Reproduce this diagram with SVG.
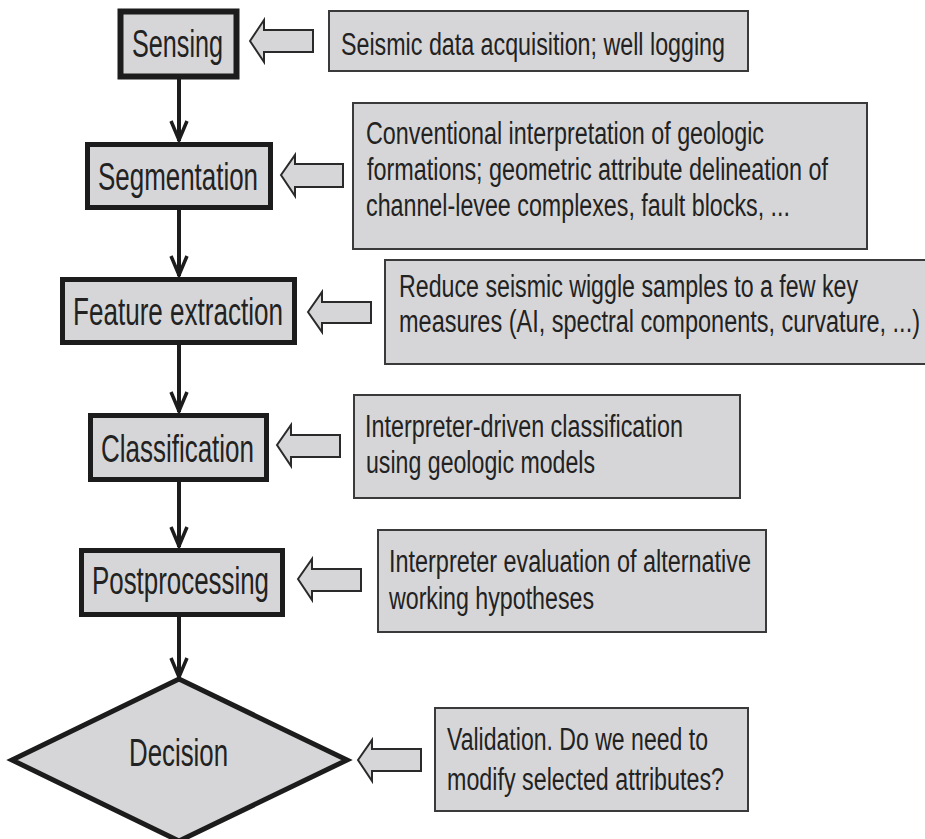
<svg xmlns="http://www.w3.org/2000/svg" width="925" height="839" viewBox="0 0 925 839">
<style>
.node{fill:#d6d6d8;stroke:#1c1c1c;stroke-width:5}
.note{fill:#d6d6d8;stroke:#3a3a3a;stroke-width:2}
.harrow{fill:#d6d6d8;stroke:#2a2a2a;stroke-width:2;stroke-linejoin:miter}
.lbl{font-family:"Liberation Sans",Arial,sans-serif;font-size:38px;fill:#222;text-anchor:start}
.txt{font-family:"Liberation Sans",Arial,sans-serif;font-size:31px;fill:#222}
.conn{stroke:#1c1c1c;stroke-width:4;fill:none}
</style>
<defs>
<marker id="vhead" markerUnits="userSpaceOnUse" viewBox="-24 -10 26 20" refX="0" refY="0" markerWidth="26" markerHeight="20" orient="auto">
<path d="M-20,-8 L-1,0 L-20,8" fill="none" stroke="#1c1c1c" stroke-width="3.5" stroke-linejoin="miter"/>
</marker>
</defs>
<rect width="925" height="839" fill="#ffffff"/>
<g id="connectors">
<line class="conn" x1="179" y1="79" x2="179" y2="141" marker-end="url(#vhead)"/>
<line class="conn" x1="179" y1="210" x2="179" y2="276" marker-end="url(#vhead)"/>
<line class="conn" x1="179" y1="345" x2="179" y2="412" marker-end="url(#vhead)"/>
<line class="conn" x1="179" y1="482" x2="179" y2="547" marker-end="url(#vhead)"/>
<line class="conn" x1="179" y1="617" x2="179" y2="678" marker-end="url(#vhead)"/>
<path class="harrow" d="M250,41 L264,20 L264,30 L313,30 L313,52 L264,52 L264,62 Z"/>
<path class="harrow" d="M281,175 L295,155 L295,164 L343,164 L343,187 L295,187 L295,196 Z"/>
<path class="harrow" d="M308,312 L322,292 L322,302 L371,302 L371,323 L322,323 L322,332 Z"/>
<path class="harrow" d="M277,445 L291,425 L291,435 L340,435 L340,457 L291,457 L291,466 Z"/>
<path class="harrow" d="M298,579 L312,559 L312,569 L361,569 L361,591 L312,591 L312,600 Z"/>
<path class="harrow" d="M358,760 L372,740 L372,749 L421,749 L421,771 L372,771 L372,781 Z"/>
</g>
<g id="sensing">
<rect class="node" x="120.5" y="11.5" width="116" height="65" style="stroke-width:6"/>
<text class="lbl" x="132" y="57" textLength="91" lengthAdjust="spacingAndGlyphs">Sensing</text>
</g>
<g id="segmentation">
<rect class="node" x="87.5" y="144.5" width="183" height="63"/>
<text class="lbl" x="98" y="190" textLength="160" lengthAdjust="spacingAndGlyphs">Segmentation</text>
</g>
<g id="feature-extraction">
<rect class="node" x="62.5" y="279.5" width="232" height="63"/>
<text class="lbl" x="73" y="325" textLength="210" lengthAdjust="spacingAndGlyphs">Feature extraction</text>
</g>
<g id="classification">
<rect class="node" x="90.5" y="415.5" width="176" height="64"/>
<text class="lbl" x="101" y="462" textLength="153" lengthAdjust="spacingAndGlyphs">Classification</text>
</g>
<g id="postprocessing">
<rect class="node" x="81.5" y="550.5" width="201" height="64"/>
<text class="lbl" x="92" y="594" textLength="177" lengthAdjust="spacingAndGlyphs">Postprocessing</text>
</g>
<g id="decision">
<path class="node" d="M179,679 L347,760 L179,841 L12,760 Z"/>
<text class="lbl" x="129" y="766" textLength="99" lengthAdjust="spacingAndGlyphs">Decision</text>
</g>
<g id="note-sensing">
<rect class="note" x="329" y="11" width="419" height="60"/>
<text class="txt" x="341" y="55" textLength="384" lengthAdjust="spacingAndGlyphs">Seismic data acquisition; well logging</text>
</g>
<g id="note-segmentation">
<rect class="note" x="353" y="103" width="514" height="146"/>
<text class="txt" x="366" y="144" textLength="398" lengthAdjust="spacingAndGlyphs">Conventional interpretation of geologic</text>
<text class="txt" x="367" y="180" textLength="461" lengthAdjust="spacingAndGlyphs">formations; geometric attribute delineation of</text>
<text class="txt" x="366" y="216" textLength="424" lengthAdjust="spacingAndGlyphs">channel-levee complexes, fault blocks, ...</text>
</g>
<g id="note-feature">
<rect class="note" x="385" y="260" width="545" height="104"/>
<text class="txt" x="399" y="297" textLength="459" lengthAdjust="spacingAndGlyphs">Reduce seismic wiggle samples to a few key</text>
<text class="txt" x="399" y="332" textLength="521" lengthAdjust="spacingAndGlyphs">measures (AI, spectral components, curvature, ...)</text>
</g>
<g id="note-classification">
<rect class="note" x="354" y="395" width="386" height="103"/>
<text class="txt" x="365" y="437" textLength="318" lengthAdjust="spacingAndGlyphs">Interpreter-driven classification</text>
<text class="txt" x="366" y="473" textLength="229" lengthAdjust="spacingAndGlyphs">using geologic models</text>
</g>
<g id="note-postprocessing">
<rect class="note" x="378" y="530" width="388" height="102"/>
<text class="txt" x="389" y="572" textLength="362" lengthAdjust="spacingAndGlyphs">Interpreter evaluation of alternative</text>
<text class="txt" x="389" y="609" textLength="205" lengthAdjust="spacingAndGlyphs">working hypotheses</text>
</g>
<g id="note-decision">
<rect class="note" x="435" y="708" width="313" height="103"/>
<text class="txt" x="447" y="750" textLength="261" lengthAdjust="spacingAndGlyphs">Validation. Do we need to</text>
<text class="txt" x="447" y="790" textLength="277" lengthAdjust="spacingAndGlyphs">modify selected attributes?</text>
</g>
</svg>
